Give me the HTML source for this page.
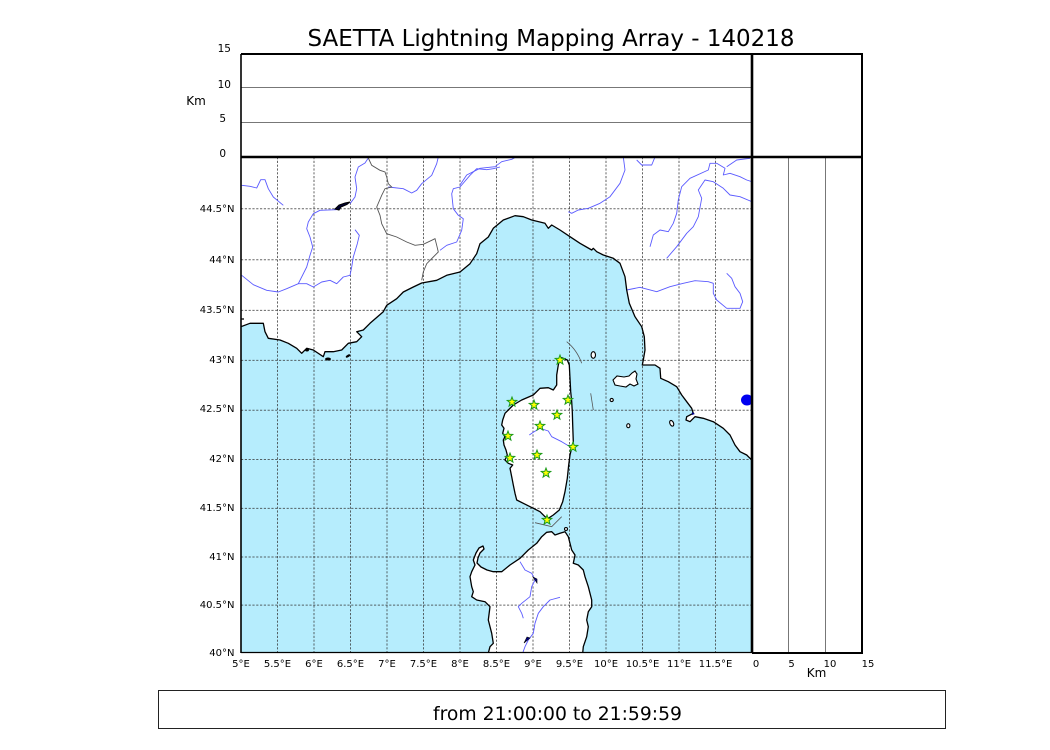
<!DOCTYPE html>
<html><head><meta charset="utf-8"><style>
html,body{margin:0;padding:0;background:#fff;}
svg{display:block;}
text{font-family:"DejaVu Sans","Liberation Sans",sans-serif;fill:#000;}
</style></head><body>
<svg width="1050" height="750" viewBox="0 0 1050 750" xmlns="http://www.w3.org/2000/svg">
<defs>
<clipPath id="mc"><rect x="241" y="157" width="511" height="496"/></clipPath>
<polygon id="st" points="0,-5 1.23,-1.7 4.76,-1.55 2,0.65 2.94,4.05 0,2.1 -2.94,4.05 -2,0.65 -4.76,-1.55 -1.23,-1.7" fill="#ffff00" stroke="#1a9a1a" stroke-width="1"/>
</defs>
<rect width="1050" height="750" fill="#fff"/>
<text x="551" y="46" font-size="23" text-anchor="middle" textLength="487" lengthAdjust="spacingAndGlyphs">SAETTA Lightning Mapping Array - 140218</text>

<g clip-path="url(#mc)">
<path fill="#b6edfd" d="M241,653 L241,326.7 250,323.3 263.3,323.3 265,331.7 268.3,338.3 280,340 288.3,343.3 296.7,348.3 301.7,353.3 306.7,348.3 313.3,350 323.3,356.7 325,351.7 333.3,351.7 341.7,350 348.3,343.3 356.7,341.7 361.7,336.7 356.7,331.7 363.3,330 370,323.3 383.3,311.7 386.7,305.3 396.7,298.7 403.3,292 413.3,287 421.7,283 436.7,280.3 446.7,275.3 460,272 470,263.7 476.7,253.7 480,243.7 488.3,237 493.3,228.3 503.3,220 515,215.7 523.3,216.7 531.7,220 545,223.3 548.3,228.3 551.7,225 560,230 570,236.7 580,243.3 591.7,250 593.3,248.3 596.7,251.7 603.3,255 613.3,258.3 620,263.3 625,276.7 626.7,290 629.3,303.3 635,316.7 641.7,326.7 644.3,336.7 645,350 643.3,360 642.3,365 648.3,365 655,365 660,368.3 660.7,378.3 668.3,381.7 676.7,386.7 681.7,395 686.7,401.7 691.7,408.3 693.3,413.3 686.7,416.7 686,420 690,421.7 695,416.7 703.3,418.3 713.3,421.7 723.3,428.3 730,435 735,445 740,451.7 746.7,455 750,458.3 752,460 L752,653 Z"/>
<path fill="#fff" d="M561.7,357.7 567.3,360 569.3,365 570,378.3 570.7,391.7 571.7,401.7 572.3,411.7 572.7,425 573.3,441.7 572,446.7 570,455 568.7,465 567.3,478.3 565,491.7 562.7,501.7 559.3,510 553.3,515 548.3,518.3 545,516.7 540,511.7 533.3,508.3 523.3,503.3 516.7,500 515,493.3 513.3,485 511.7,476.7 510,468.3 512.7,465 508.3,463.3 505,460 507.3,455 506,450 504,445 503.3,440 505,436.7 502.7,433.3 504,428.3 501.7,425 502.7,420 505,413.3 508.3,410 513.3,405 521.7,400 533.3,395 540,388.3 548.3,387.7 553.3,390 556.7,385 556.7,375 558.3,365 560,359 Z"/>
<path fill="#fff" d="M488.3,655 488.3,653 490,646.7 493.3,643.3 491.7,633.3 488.3,620 490,606.7 485,601.7 476.7,600 471.7,596.7 473.3,591.7 471.7,586.7 470,576.7 471.7,571.7 475,565 473.3,560 476,553 479,548 483,546 484,549 480,553 478,558 477,563 481,567 487,570 493.3,571.7 501.7,571.7 510,565 520,558.3 528.3,550 536.7,543.3 541.7,536.7 546.7,532.3 551.7,531.7 555,535 560,533.3 565,531.7 568.3,536.7 570,543.3 571.7,550 575,555 573.3,563.3 578.3,565 583.3,570 585,576.7 588.3,586.7 591.7,600 591.7,606.7 588.3,611.7 586.7,620 588.3,626.7 586.7,636.7 583.3,646.7 582.7,653 582.7,655 Z"/>
<g stroke="#333" stroke-opacity="0.75" stroke-width="1" stroke-dasharray="2.2,1.6" fill="none">
<path d="M277.5,157V653M314,157V653M350.5,157V653M387,157V653M423.5,157V653M460,157V653M496.5,157V653M533,157V653M569.5,157V653M606,157V653M642.5,157V653M679,157V653M715.5,157V653"/>
<path d="M241,208.8H752M241,259.8H752M241,310.4H752M241,360.4H752M241,410.2H752M241,459.5H752M241,508.4H752M241,557H752M241,605.1H752M241,652.5H752"/>
</g>
<g stroke="#5a5aff" stroke-width="0.9" fill="none" stroke-linejoin="round">
<path d="M241.7,185.3 250,186.3 256.7,188 260.7,179.7 265,179.7 268.3,188.7 273.3,197 283.3,205.3"/>
<path d="M336.7,209.7 320,210.3 313.3,213.7 308.3,222 306.7,228.7 310,237 312.7,247 310,255.3 306.7,267 298.3,283.7 286.7,288.7 278.3,292 266.7,290.3 253.3,284.7 241.7,275.3"/>
<path d="M298.3,283.7 306.7,283.7 313.3,287 321.7,282 330,280.3 336.7,283.7 343.3,277 350,275.3 351.7,267 353.3,257 357.3,243.7 359.3,235.3 355,229.7"/>
<path d="M350,203.7 355,197 356.7,188.7 355,177 358.3,167 365,163 368.3,158"/>
<path d="M388.3,187 403.3,188.7 411.7,193 416.7,190.3 421.7,183.7 431.7,175.3 436.7,163.7 438.3,157"/>
<path d="M440,250.3 446.7,245.3 456.7,242 461.7,230.3 463.3,218.7 458.3,215.3 453.3,208.7 451.7,193.7 453.3,188.7 460,187 470,175.3 476.7,168.7 486.7,169.7 493.3,168.7 500,167"/>
<path d="M460,185 466.7,175 480,168.3 495,166.7 501.7,161.7 511.7,159.3 516,157"/>
<path d="M623.3,157 625,170 620,183.3 610,196.7 600,203.3 588.3,208.3 578.3,210 571.7,213.3 568.3,211.7"/>
<path d="M636.7,160 641.7,165 651.7,165 655,157"/>
<path d="M650,246.7 653.3,235 660,230 668.3,231.7 673.3,223.3 676.7,213.3 678.3,200 681.7,186.7 690,178.3 708.3,170 710,163.3 716.7,163.3 725,168.3 723.3,175 730,173.3 740,176.7 746.7,180 752,181.7"/>
<path d="M726.7,166.7 736.7,160 750,158.3"/>
<path d="M666.7,258.3 676.7,246.7 686.7,233.3 693.3,226.7 698.3,216.7 701.7,198.3 698.3,190 705,180 713.3,181.7 723.3,188.3 730,195 740,196.7 752,201.7"/>
<path d="M626.7,290 640,287.3 656.7,291.7 670,286.7 683.3,283.3 695,280.7 708.3,281.7 713.3,283.3 713.3,293.3 716.7,300 726.7,308.3 740,308.3 742.7,301.7 740,293.3 735,286.7 731.7,278.3 726.7,273.3"/>
<path d="M529.3,435 533.3,432.3 540,428.3 548.3,431 551.7,436.7 561.7,441.7 570,446.7"/>
<path d="M520,561.7 525,570 531.7,573.3 535,580 531.7,586.7 530,596.7 521.7,603.3 518.3,606.7 521.7,613.3 523.3,618.3"/>
<path d="M560,597.3 550,600 543.3,606.7 538.3,613.3 535,623.3 533.3,633.3 528.3,640 525,646.7 522.7,653"/>
</g>
<path stroke="#555" stroke-width="0.9" fill="none" d="M368.3,158 371.7,165.3 380,170.3 385,172 386.7,177 388.3,183.7 391.7,187 385,188.7 381.7,195.3 376.7,207 380,215.3 381.7,223.7 386.7,233.7 396.7,237 406.7,242 415,245.3 423.3,244.3 431.7,240.3 435,238.7 436.7,245.3 438.3,252 433.3,257 426.7,263.7 423.3,272 421.7,280.3"/>
<g stroke="#555" stroke-width="0.8" fill="none">
<path d="M566.7,341.7 Q577,350 581.7,363.3"/>
<path d="M590.7,393.3 L593.3,410"/>
<path d="M535,522.7 551.7,526.7 561.7,516.7"/>
</g>
<g stroke="#000" stroke-width="1.3" fill="none" stroke-linejoin="round">
<path d="M241,326.7 250,323.3 263.3,323.3 265,331.7 268.3,338.3 280,340 288.3,343.3 296.7,348.3 301.7,353.3 306.7,348.3 313.3,350 323.3,356.7 325,351.7 333.3,351.7 341.7,350 348.3,343.3 356.7,341.7 361.7,336.7 356.7,331.7 363.3,330 370,323.3 383.3,311.7 386.7,305.3 396.7,298.7 403.3,292 413.3,287 421.7,283 436.7,280.3 446.7,275.3 460,272 470,263.7 476.7,253.7 480,243.7 488.3,237 493.3,228.3 503.3,220 515,215.7 523.3,216.7 531.7,220 545,223.3 548.3,228.3 551.7,225 560,230 570,236.7 580,243.3 591.7,250 593.3,248.3 596.7,251.7 603.3,255 613.3,258.3 620,263.3 625,276.7 626.7,290 629.3,303.3 635,316.7 641.7,326.7 644.3,336.7 645,350 643.3,360 642.3,365 648.3,365 655,365 660,368.3 660.7,378.3 668.3,381.7 676.7,386.7 681.7,395 686.7,401.7 691.7,408.3 693.3,413.3 686.7,416.7 686,420 690,421.7 695,416.7 703.3,418.3 713.3,421.7 723.3,428.3 730,435 735,445 740,451.7 746.7,455 750,458.3 752,460"/>
<path d="M241,319 L244,319"/>
<path d="M561.7,357.7 567.3,360 569.3,365 570,378.3 570.7,391.7 571.7,401.7 572.3,411.7 572.7,425 573.3,441.7 572,446.7 570,455 568.7,465 567.3,478.3 565,491.7 562.7,501.7 559.3,510 553.3,515 548.3,518.3 545,516.7 540,511.7 533.3,508.3 523.3,503.3 516.7,500 515,493.3 513.3,485 511.7,476.7 510,468.3 512.7,465 508.3,463.3 505,460 507.3,455 506,450 504,445 503.3,440 505,436.7 502.7,433.3 504,428.3 501.7,425 502.7,420 505,413.3 508.3,410 513.3,405 521.7,400 533.3,395 540,388.3 548.3,387.7 553.3,390 556.7,385 556.7,375 558.3,365 560,359 Z"/>
<path d="M488.3,653 490,646.7 493.3,643.3 491.7,633.3 488.3,620 490,606.7 485,601.7 476.7,600 471.7,596.7 473.3,591.7 471.7,586.7 470,576.7 471.7,571.7 475,565 473.3,560 476,553 479,548 483,546 484,549 480,553 478,558 477,563 481,567 487,570 493.3,571.7 501.7,571.7 510,565 520,558.3 528.3,550 536.7,543.3 541.7,536.7 546.7,532.3 551.7,531.7 555,535 560,533.3 565,531.7 568.3,536.7 570,543.3 571.7,550 575,555 573.3,563.3 578.3,565 583.3,570 585,576.7 588.3,586.7 591.7,600 591.7,606.7 588.3,611.7 586.7,620 588.3,626.7 586.7,636.7 583.3,646.7 582.7,653"/>
</g>
<g fill="#fff" stroke="#000" stroke-width="1.1">
<ellipse cx="593.3" cy="355" rx="2.2" ry="3.3"/>
<path d="M613,380 617,376 624,377 629,376 632,373 635,371 637,374 636,379 638,384 634,386 630,384 626,387 620,386 615,385 Z"/>
<ellipse cx="611.7" cy="400" rx="1.6" ry="1.6"/>
<ellipse cx="628.3" cy="425.7" rx="1.6" ry="2"/>
<ellipse cx="671.7" cy="423.3" rx="1.8" ry="3" transform="rotate(-25 671.7 423.3)"/>
<ellipse cx="566" cy="529" rx="1.5" ry="1.5"/>
</g>
<g fill="#000">
<ellipse cx="328" cy="359" rx="3" ry="1.5"/>
<ellipse cx="348" cy="356" rx="2.5" ry="1.2" transform="rotate(-30 348 356)"/>
<ellipse cx="307" cy="350" rx="2" ry="1.5"/>
</g>
<path d="M335,209 L339,205 L345,203 L350,202 L347,204.5 L341,207 L339,210 Z" fill="#000030" stroke="#000" stroke-width="1"/>
<path d="M533,577 L537,579 L537,583 Z" fill="#00008b" stroke="#000" stroke-width="0.6"/>
<path d="M524,643 L527,637 L530,638 Z" fill="#00008b" stroke="#000" stroke-width="0.6"/>
<path d="M692,412 L695,414 L692,415 Z" fill="#00008b"/>
<ellipse cx="747" cy="400" rx="6" ry="5.5" fill="#0000f0"/>
<use href="#st" x="560" y="360"/>
<use href="#st" x="512" y="402"/>
<use href="#st" x="534" y="405"/>
<use href="#st" x="568" y="400"/>
<use href="#st" x="557" y="415"/>
<use href="#st" x="540" y="426"/>
<use href="#st" x="508" y="436"/>
<use href="#st" x="573" y="447"/>
<use href="#st" x="510" y="458"/>
<use href="#st" x="537" y="455"/>
<use href="#st" x="546" y="473"/>
<use href="#st" x="547" y="520"/>
</g>

<g stroke="#777" stroke-width="1">
<path d="M241,87.5H752M241,122.5H752"/>
<path d="M788.5,157V653M825.5,157V653"/>
</g>
<g stroke="#000" fill="none">
<path d="M241,54V653" stroke-width="1.6"/>
<path d="M241,54H862V653H752" stroke-width="2"/>
<path d="M241,652.5H752" stroke-width="1.2"/>
<path d="M241,157H862" stroke-width="2.6"/>
<path d="M752,54V653" stroke-width="2.6"/>
</g>

<g font-size="10.5" text-anchor="end">
<text x="231" y="52">15</text>
<text x="231" y="88">10</text>
<text x="226" y="122">5</text>
<text x="226" y="157">0</text>
</g>
<text x="196" y="105" font-size="12" text-anchor="middle">Km</text>
<g font-size="10" text-anchor="end">
<text x="234.5" y="212">44.5°N</text>
<text x="234.5" y="263">44°N</text>
<text x="234.5" y="313">43.5°N</text>
<text x="234.5" y="363">43°N</text>
<text x="234.5" y="412">42.5°N</text>
<text x="234.5" y="462">42°N</text>
<text x="234.5" y="511">41.5°N</text>
<text x="234.5" y="560">41°N</text>
<text x="234.5" y="608">40.5°N</text>
<text x="234.5" y="656">40°N</text>
</g>
<g font-size="10" text-anchor="middle">
<text x="241" y="667">5°E</text>
<text x="277.5" y="667">5.5°E</text>
<text x="314" y="667">6°E</text>
<text x="350.5" y="667">6.5°E</text>
<text x="387" y="667">7°E</text>
<text x="423.5" y="667">7.5°E</text>
<text x="460" y="667">8°E</text>
<text x="496.5" y="667">8.5°E</text>
<text x="533" y="667">9°E</text>
<text x="569.5" y="667">9.5°E</text>
<text x="606" y="667">10°E</text>
<text x="642.5" y="667">10.5°E</text>
<text x="679" y="667">11°E</text>
<text x="715.5" y="667">11.5°E</text>
<text x="756" y="667">0</text>
<text x="791.5" y="667">5</text>
<text x="830" y="667">10</text>
<text x="868" y="667">15</text>
</g>
<text x="816.5" y="677" font-size="12" text-anchor="middle">Km</text>

<rect x="158.5" y="690.5" width="787" height="38" fill="none" stroke="#222" stroke-width="1"/>
<text x="557.5" y="720" font-size="19" text-anchor="middle" textLength="249" lengthAdjust="spacingAndGlyphs">from 21:00:00 to 21:59:59</text>
</svg>
</body></html>
